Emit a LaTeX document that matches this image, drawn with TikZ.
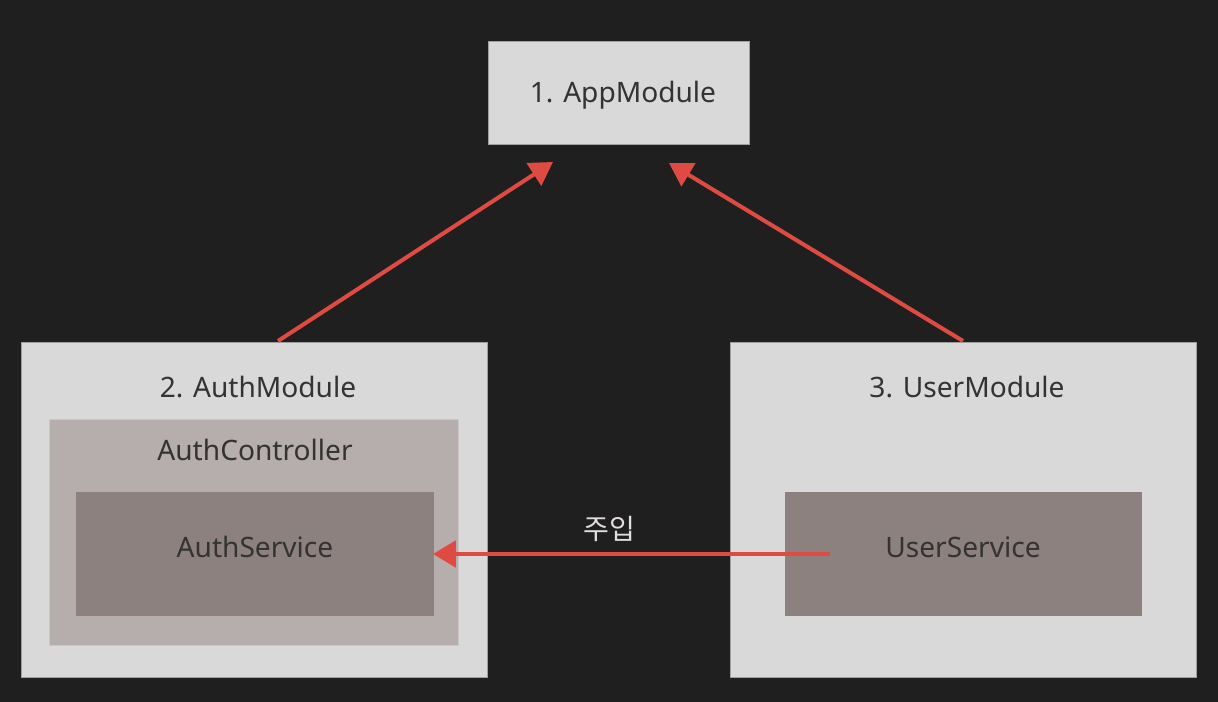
\documentclass[tikz,border=0pt]{standalone}
\usepackage{fontspec}
\setmainfont{Noto Sans}
\newfontfamily\kofont{Noto Sans CJK KR}
\usetikzlibrary{arrows.meta}

\definecolor{bgdark}{HTML}{1F1F1F}
\definecolor{modgray}{HTML}{D9D9D9}
\definecolor{ctrlgray}{HTML}{B5AEAC}
\definecolor{svcgray}{HTML}{8C817E}
\definecolor{linkred}{HTML}{DF4B42}
\definecolor{txtdark}{HTML}{333333}
\definecolor{txtlight}{HTML}{E2DEDE}

\begin{document}
\begin{tikzpicture}[x=0.02cm,y=-0.02cm]
\tikzset
{%模块、组件与箭头样式
  box/.style={draw=gray!75,line width=0.4pt,inner sep=0pt,outer sep=0pt},
  modbox/.style={box,fill=modgray},
  ctrlbox/.style={box,draw=ctrlgray!70!white,fill=ctrlgray},
  svcbox/.style={box,draw=svcgray,fill=svcgray},
  lbl/.style={text=txtdark,font=\fontsize{16}{19}\selectfont,inner sep=0pt},
  link/.style={draw=linkred,line width=2.3pt,-{Triangle[length=13pt,width=15pt]}},
}
\path[fill=bgdark,use as bounding box] (0,0) rectangle (1218,702);

\node[modbox,minimum width=261*0.02cm,minimum height=103*0.02cm] (app) at (618.5,92.5) {};
\node[lbl] (applbl) at (623,95) {1. AppModule};

\node[modbox,minimum width=466*0.02cm,minimum height=335*0.02cm] (authmod) at (254,509.5) {};
\node[lbl] (authmodlbl) at (258,387) {2. AuthModule};
\node[ctrlbox,minimum width=409*0.02cm,minimum height=226*0.02cm] (authctrl) at (253.5,532) {};
\node[lbl] (authctrllbl) at (255,450) {AuthController};
\node[svcbox,minimum width=357*0.02cm,minimum height=123*0.02cm] (authsvc) at (254.5,553.5) {};
\node[lbl] (authsvclbl) at (255,547) {AuthService};

\node[modbox,minimum width=466*0.02cm,minimum height=335*0.02cm] (usermod) at (963,509.5) {};
\node[lbl] (usermodlbl) at (967,387) {3. UserModule};
\node[svcbox,minimum width=356*0.02cm,minimum height=123*0.02cm] (usersvc) at (963,553.5) {};
\node[lbl] (usersvclbl) at (963,547) {UserService};

\coordinate (authtop) at (278,341);
\coordinate (usertop) at (963,341);
\coordinate (apptipl) at (553,162);
\coordinate (apptipr) at (669,163);
\coordinate (svcfrom) at (830,554);

\draw[link] (authtop) -- (apptipl);
\draw[link] (usertop) -- (apptipr);
\draw[link] (svcfrom) -- (authsvc.east |- svcfrom)
  node[pos=0.555,above=6pt,text=txtlight,font=\kofont\fontsize{16}{19}\selectfont,inner sep=0pt] (inject) {주입};
\end{tikzpicture}
\end{document}
